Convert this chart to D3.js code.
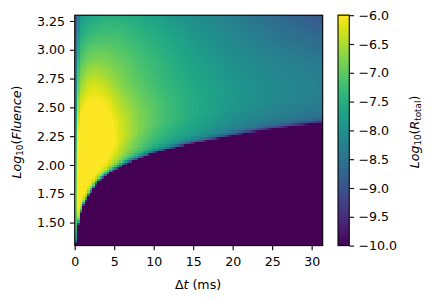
<!DOCTYPE html>
<html><head><meta charset="utf-8">
<script src="https://d3js.org/d3.v7.min.js"></script>
<style>html,body{margin:0;background:#fff}svg{display:block}text{font-family:"DejaVu Sans";font-size:12.6px;fill:#000}</style>
</head><body><svg id="c" width="434" height="301"></svg>
<script>
const xTicks=[0,5,10,15,20,25,30];
const yTicks=[1.5,1.75,2,2.25,2.5,2.75,3,3.25];
const cTicks=[-6,-6.5,-7,-7.5,-8,-8.5,-9,-9.5,-10];
// field: rows = log fluence, columns = delta t
const dtCols=[0,0.3,0.7,1.5,2.5,4,6,8,11,15,20,25,31.4];
const fluRows=[3.3,3.1,2.9,2.7,2.5,2.3,2.1,1.9,1.7,1.5,1.3];
const row33=[-9.3,-8.6,-7.9,-7.7,-7.6,-7.5,-7.5,-7.6,-7.8,-8.05,-8.3,-8.6,-8.95];
const row31=[-9.2,-8.1,-7.5,-7.3,-7.2,-7.15,-7.2,-7.35,-7.55,-7.85,-8.15,-8.4,-8.65];
const row29=[-9.1,-7.6,-7.1,-6.85,-6.75,-6.8,-6.95,-7.15,-7.4,-7.7,-8.0,-8.2,-8.4];
const row27=[-9.0,-7.2,-6.7,-6.35,-6.25,-6.4,-6.75,-7.0,-7.3,-7.6,-7.9,-8.1,-8.25];
const row25=[-8.9,-6.8,-6.2,-5.95,-5.9,-6.0,-6.45,-6.8,-7.15,-7.5,-7.8,-8.0,-8.15];
const row23=[-8.7,-6.3,-5.8,-5.6,-5.6,-5.75,-6.2,-6.6,-7.0,-7.3,-7.7,-7.9,-8.0];
const row21=[-8.4,-5.9,-5.5,-5.3,-5.3,-5.4,-5.9,-6.35,-6.8,-7.2,-7.6,-7.9,-8.0];
const row19=[-8.2,-5.7,-5.3,-5.2,-5.2,-5.2,-5.7,-6.2,-6.8,-7.2,-7.6,-7.9,-8.0];
const row17=[-8.0,-5.6,-5.2,-5.2,-5.2,-5.3,-5.8,-6.3,-6.8,-7.2,-7.6,-7.9,-8.0];
const row15=[-8.0,-5.7,-5.3,-5.4,-5.5,-5.6,-6.0,-6.5,-6.9,-7.2,-7.6,-7.9,-8.0];
const row13=[-8.0,-6.3,-5.9,-5.9,-6.0,-6.1,-6.3,-6.6,-7.0,-7.3,-7.6,-7.9,-8.0];
const field=[row33,row31,row29,row27,row25,row23,row21,row19,row17,row15,row13];
// detection edge: below this curve the rate is at the floor
const edgeDt=[0,0.12,0.48,0.91,1.75,2.81,4.49,6.6,9.94,12.5,14.6,18.4,21.8,25,28,31.4];
const edgeFlu=[1.2,1.3,1.49,1.62,1.73,1.84,1.93,2.01,2.10,2.143,2.18,2.23,2.274,2.31,2.337,2.363];
// fall-off above the edge
const rimDist=[0,0.01,0.02,0.04,0.07,0.12,0.18,0.25,0.4];
const rimFrac=[0,0.3,0.48,0.68,0.78,0.85,0.9,0.96,1];

const L=74.7,R=322.7,T=15.2,B=245.6,CL=338,CR=349.3;
const x=d3.scaleLinear().domain([0,31.4]).range([L,R]);
const y=d3.scaleLinear().domain([1.3,3.3]).range([B,T]);
const colI=d3.scaleLinear().domain(dtCols).range(dtCols.map((d,i)=>i)).clamp(true);
const rowI=d3.scaleLinear().domain(fluRows).range(fluRows.map((d,i)=>i)).clamp(true);
const edge=d3.scaleLinear().domain(edgeDt).range(edgeFlu);
const rim=d3.scaleLinear().domain(rimDist).range(rimFrac).clamp(true);
const color=d3.scaleSequential(d3.interpolateViridis).domain([-10,-6]).clamp(true);
function base(t,f){
  const c=colI(t),r=rowI(f),c0=Math.min(Math.floor(c),dtCols.length-2),r0=Math.min(Math.floor(r),fluRows.length-2);
  const a=c-c0,b=r-r0;
  return (1-b)*((1-a)*field[r0][c0]+a*field[r0][c0+1])+b*((1-a)*field[r0+1][c0]+a*field[r0+1][c0+1]);
}
function val(t,f){
  const d=f-edge(t);
  if(d<=0) return -10;
  return -10+(base(t,f)+10)*rim(d);
}
const svg=d3.select("#c");
const nx=100,ny=100,cw=(R-L)/nx,ch=(B-T)/ny;
const cells=[];
for(let i=0;i<nx;i++)for(let j=0;j<ny;j++){
  const t=x.invert(L+(i+.5)*cw),f=y.invert(T+(j+.5)*ch);
  cells.push({t,f,v:val(t,f)});
}
svg.append("g").attr("shape-rendering","crispEdges").selectAll("rect").data(cells).join("rect")
  .attr("x",d=>x(d.t)-cw/2).attr("y",d=>y(d.f)-ch/2).attr("width",cw+.6).attr("height",ch+.6)
  .attr("fill",d=>color(d.v));
const ax=svg.append("g").attr("transform",`translate(0,${B})`).call(d3.axisBottom(x).tickValues(xTicks).tickFormat(d3.format("d")).tickSize(4.7).tickPadding(7));
const ay=svg.append("g").attr("transform",`translate(${L},0)`).call(d3.axisLeft(y).tickValues(yTicks).tickFormat(d3.format(".2f")).tickSize(4.7).tickPadding(5));
[ax,ay].forEach(g=>{g.attr("font-family",null).attr("font-size",null);g.select(".domain").remove();g.selectAll("line").attr("stroke","#000").attr("stroke-width",1.1)});
svg.append("rect").attr("x",L).attr("y",T).attr("width",R-L).attr("height",B-T).attr("fill","none").attr("stroke","#000").attr("stroke-width",1.1);
const cy=d3.scaleLinear().domain([-10,-6]).range([B,T]);
const lv=d3.range(256).map(i=>-10+4*i/255);
svg.append("g").attr("shape-rendering","crispEdges").selectAll("rect").data(lv).join("rect")
  .attr("x",CL).attr("width",CR-CL).attr("y",d=>cy(d)-1).attr("height",1.6).attr("fill",d=>color(d));
const ac=svg.append("g").attr("transform",`translate(${CR},0)`).call(d3.axisRight(cy).tickValues(cTicks).tickFormat(d=>d3.format(".1f")(d).replace("-","\u2212")).tickSize(4.7).tickPadding(4.5));
ac.attr("font-family",null).attr("font-size",null);ac.select(".domain").remove();ac.selectAll("line").attr("stroke","#000").attr("stroke-width",1.1);
svg.append("rect").attr("x",CL).attr("y",T).attr("width",CR-CL).attr("height",B-T).attr("fill","none").attr("stroke","#000").attr("stroke-width",1.1);
const xl=svg.append("text").attr("x",198).attr("y",289).attr("text-anchor","middle");
xl.append("tspan").text("\u0394");xl.append("tspan").attr("font-style","italic").text("t");xl.append("tspan").text(" (ms)");
function logLabel(px,py,sub,inner){
  const t=svg.append("text").attr("transform",`translate(${px},${py}) rotate(-90)`).attr("text-anchor","middle").attr("font-style","italic");
  t.append("tspan").text("Log");
  t.append("tspan").attr("font-style","normal").style("font-size","8.8px").attr("dy",2).text("10");
  t.append("tspan").attr("font-style","normal").attr("dy",-2).text("(");
  t.append("tspan").text(inner);
  if(sub) t.append("tspan").attr("font-style","normal").style("font-size","8.8px").attr("dy",2).text(sub);
  t.append("tspan").attr("font-style","normal").attr("dy",sub?-2:0).text(")");
}
logLabel(21,132,null,"Fluence");
logLabel(419,132,"total","R");
</script></body></html>
